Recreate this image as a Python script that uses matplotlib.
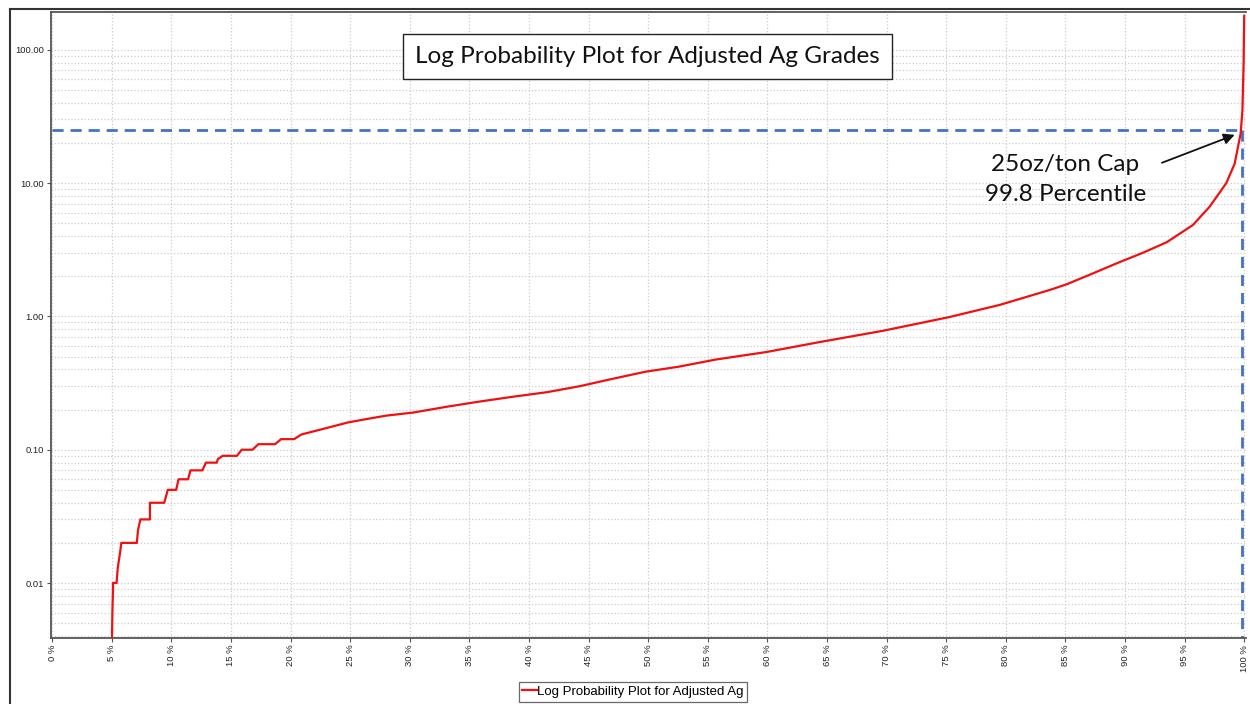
import matplotlib
matplotlib.use('Agg')
import matplotlib.pyplot as plt
from matplotlib.lines import Line2D
from matplotlib.ticker import FixedLocator, FuncFormatter, LogLocator, NullFormatter

# Kumulative Verteilung (Prozent -> Gehalt oz/ton)
percentiles = [5.0, 5.05, 5.1, 5.1, 5.4, 5.5, 5.7, 5.8, 7.1, 7.2, 7.4, 8.2, 8.2, 9.4, 9.7,
               10.4, 10.6, 11.4, 11.6, 12.6, 12.9, 13.8, 13.9, 14.3, 15.5, 15.9, 16.8,
               17.3, 18.7, 19.2, 20.3, 20.9, 22.3, 23.6, 24.8, 26.4, 28.0, 30.3, 33.1,
               35.9, 38.7, 41.5, 44.3, 47.0, 49.8, 52.6, 55.7, 59.9, 64.1, 69.7, 75.3,
               79.5, 80.9, 83.7, 85.1, 87.3, 89.3, 91.5, 93.5, 95.7, 97.1, 98.5, 99.2,
               99.7, 99.85, 99.95, 100.0]
grades = [0.003, 0.006, 0.009, 0.01, 0.01, 0.013, 0.017, 0.02, 0.02, 0.025, 0.03, 0.03,
          0.04, 0.04, 0.05, 0.05, 0.06, 0.06, 0.07, 0.07, 0.08, 0.08, 0.085, 0.09, 0.09,
          0.10, 0.10, 0.11, 0.11, 0.12, 0.12, 0.13, 0.14, 0.15, 0.16, 0.17, 0.18, 0.19,
          0.21, 0.23, 0.25, 0.27, 0.30, 0.34, 0.385, 0.42, 0.475, 0.54, 0.635, 0.78,
          0.99, 1.22, 1.33, 1.58, 1.74, 2.1, 2.5, 3.0, 3.6, 4.85, 6.65, 10.0, 14.0,
          23.5, 35.0, 80.0, 180.0]

x_ticks = list(range(0, 101, 5))
y_ticks = [0.01, 0.1, 1.0, 10.0, 100.0]
cap_grade = 25.0
cap_percentile = 99.8

fig = plt.figure(figsize=(12.5, 7.04), dpi=100)
ax = fig.add_axes([0.0408, 0.0942, 0.9560, 0.8892])

ax.plot(percentiles, grades, color='#f01010', linewidth=1.6,
        label='Log Probability Plot for Adjusted Ag', zorder=3)

# Cap-Linien (25 oz/ton, 99.8 Perzentil)
ax.plot([0, cap_percentile], [cap_grade, cap_grade], color='#4472c4', linewidth=2.0,
        linestyle=(0, (4, 2.5)), zorder=2)
ax.plot([cap_percentile, cap_percentile], [cap_grade, 0.001], color='#4472c4', linewidth=2.0,
        linestyle=(0, (4, 2.5)), zorder=2)

ax.set_yscale('log')
ax.set_xlim(-0.1, 100.15)
ax.set_ylim(0.00389, 193)

ax.xaxis.set_major_locator(FixedLocator(x_ticks))
ax.xaxis.set_major_formatter(FuncFormatter(lambda v, p: '%d %%' % v))
ax.yaxis.set_major_locator(FixedLocator(y_ticks))
ax.yaxis.set_major_formatter(FuncFormatter(lambda v, p: '%.2f' % v))
ax.yaxis.set_minor_locator(LogLocator(base=10, subs=range(2, 10), numticks=20))
ax.yaxis.set_minor_formatter(NullFormatter())

for lbl in ax.get_xticklabels():
    lbl.set_rotation(90)
ax.tick_params(axis='both', which='major', labelsize=6.8, length=3, width=0.8,
               color='#555555', labelcolor='#222222', pad=2)
ax.tick_params(axis='y', which='minor', length=0)
for lbl in ax.get_xticklabels() + ax.get_yticklabels():
    lbl.set_fontfamily('Liberation Sans')

ax.grid(True, which='both', axis='y', color='#cccccc', linestyle=':', linewidth=0.9)
ax.grid(True, which='major', axis='x', color='#cccccc', linestyle=':', linewidth=0.9)
ax.set_axisbelow(True)

for side in ['left', 'bottom', 'top']:
    ax.spines[side].set_color('#555555')
    ax.spines[side].set_linewidth(1.3)
ax.spines['right'].set_visible(False)

# Titel-Box
ax.text(0.499, 0.9284, 'Log Probability Plot for Adjusted Ag Grades', transform=ax.transAxes,
        ha='center', va='center', fontsize=17.5, family='Lato', color='#111111',
        bbox=dict(boxstyle='square,pad=0.5', facecolor='white', edgecolor='#222222', linewidth=1.0),
        zorder=5)

# Annotation mit Pfeil
ax.text(85.0, 10.6, '25oz/ton Cap\n99.8 Percentile', ha='center', va='center',
        fontsize=17.5, family='Lato', color='#111111', linespacing=1.5, zorder=5)
ax.annotate('', xy=(99.2, 23.0), xytext=(93.1, 14.2),
            arrowprops=dict(arrowstyle='-|>', color='#111111', lw=1.3, mutation_scale=16,
                            shrinkA=0, shrinkB=0),
            zorder=5)

leg = fig.legend(loc='center', bbox_to_anchor=(0.5064, 0.0175),
                 prop={'family': 'Liberation Sans', 'size': 9.5},
                 handlelength=1.1, handletextpad=0.0, borderpad=0.3, borderaxespad=0,
                 frameon=True, fancybox=False, edgecolor='#444444')
leg.get_frame().set_linewidth(0.9)

# Aeusserer Rahmen
fig.add_artist(Line2D([0.0076, 0.0076], [0.0, 0.9879], transform=fig.transFigure,
                      color='#333333', linewidth=1.5))
fig.add_artist(Line2D([0.0076, 1.0], [0.9879, 0.9879], transform=fig.transFigure,
                      color='#333333', linewidth=1.5))

fig.savefig('out.png', dpi=100)
plt.close(fig)
